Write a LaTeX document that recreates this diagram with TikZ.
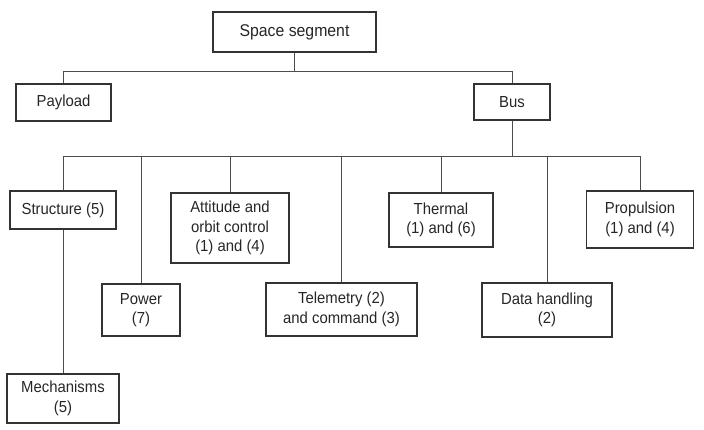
\documentclass[tikz,border=0pt]{standalone}
\usepackage{fontspec}
\setmainfont[FakeStretch=0.93]{Liberation Sans}
\begin{document}
\begin{tikzpicture}[x=1pt,y=-1pt,
  blk/.style={draw=black!80,line width=1.1pt,rectangle,align=center,inner sep=0pt,
    font=\fontsize{16}{19.5}\selectfont,text=black!85},
  link/.style={draw=black!70,line width=0.8pt}]
\useasboundingbox (0,0) rectangle (704,429);
\node[blk,minimum width=163,minimum height=40,font=\fontsize{17}{19.5}\selectfont] (seg) at (294.5,32) {Space segment};
\node[blk,minimum width=95,minimum height=37] (pay) at (63.5,102.5) {Payload};
\node[blk,minimum width=76,minimum height=36] (bus) at (512,102) {Bus};
\node[blk,minimum width=106,minimum height=38] (str) at (63,210) {Structure (5)};
\node[blk,minimum width=118,minimum height=70] (att) at (230,228) {Attitude and\\orbit control\\(1) and (4)};
\node[blk,minimum width=78,minimum height=52] (pow) at (141,310) {Power\\(7)};
\node[blk,minimum width=151,minimum height=53] (tel) at (341.5,309.5) {Telemetry (2)\\and command (3)};
\node[blk,minimum width=104,minimum height=54] (the) at (441,220) {Thermal\\(1) and (6)};
\node[blk,minimum width=130,minimum height=54] (dat) at (547,310) {Data handling\\(2)};
\node[blk,minimum width=107,minimum height=57] (pro) at (640,219.5) {Propulsion\\(1) and (4)};
\node[blk,minimum width=112,minimum height=49] (mec) at (63,398.5) {Mechanisms\\(5)};
% top level
\draw[link] (seg.south) -- (seg.south |- 0,71) -| (pay.north);
\draw[link] (seg.south) -- (seg.south |- 0,71) -| (bus.north);
% bus children
\foreach \c in {str,pow,att,tel,the,dat,pro}
  \draw[link] (bus.south) -- (bus.south |- 0,156) -| (\c.north);
\draw[link] (str.south) -- (mec.north);
\end{tikzpicture}
\end{document}
